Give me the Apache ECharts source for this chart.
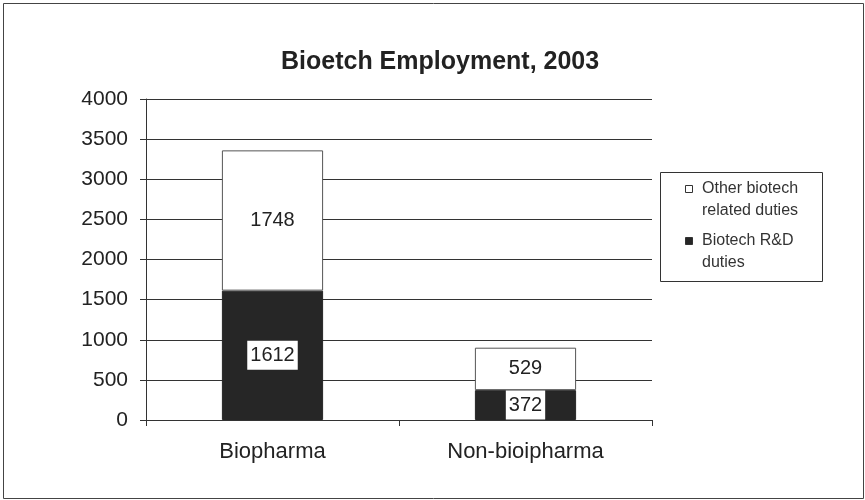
<!DOCTYPE html>
<html>
<head>
<meta charset="utf-8">
<script src="https://cdn.jsdelivr.net/npm/echarts@6/dist/echarts.min.js"></script>
<style>html,body{margin:0;padding:0;background:#fff}#c{width:865px;height:500px}</style>
</head>
<body>
<div id="c"></div>
<script>
var categories = ['Biopharma', 'Non-bioipharma'];
var rdDuties = [1612, 372];
var otherDuties = [1748, 529];
var seriesNames = ['Other biotech related duties', 'Biotech R&D duties'];
var legendLines = ['Other biotech\nrelated duties', 'Biotech R&D\nduties'];
var legendColors = ['#fff', '#262626'];

var FONT = '"Liberation Sans", Arial, sans-serif';
var chart = echarts.init(document.getElementById('c'), null, {renderer: 'canvas'});

var graphics = [
  {type: 'rect', shape: {x: 3.5, y: 3.5, width: 860, height: 495}, style: {fill: 'none', stroke: '#444', lineWidth: 1}},
  {type: 'rect', shape: {x: 660.5, y: 172.5, width: 162, height: 109}, style: {fill: '#fff', stroke: '#333', lineWidth: 1}, z: 1}
];
legendLines.forEach(function (t, i) {
  graphics.push({type: 'rect', shape: {x: 685.5, y: 185.5 + i * 52, width: 7, height: 7}, style: {fill: legendColors[i], stroke: '#333', lineWidth: 1}, z: 2});
  graphics.push({type: 'text', x: 702, y: 178 + i * 52, style: {text: t, font: '16px "Liberation Sans", Arial, sans-serif', fill: '#333', lineHeight: 22}, z: 2});
});

chart.setOption({
  backgroundColor: '#fff',
  animation: false,
  textStyle: {fontFamily: FONT},
  title: {
    text: 'Bioetch Employment, 2003',
    left: 276, top: 45,
    textStyle: {fontFamily: FONT, fontSize: 25, fontWeight: 'bold', color: '#222'}
  },
  graphic: graphics,
  grid: {left: 146, right: 213, top: 99, bottom: 80},
  xAxis: {
    type: 'category', data: categories,
    axisLine: {lineStyle: {color: '#333'}},
    axisTick: {show: true, length: 6, lineStyle: {color: '#333'}},
    axisLabel: {fontFamily: FONT, fontSize: 22, color: '#222', margin: 21}
  },
  yAxis: {
    type: 'value', min: 0, max: 4000, interval: 500,
    axisLine: {show: true, lineStyle: {color: '#333'}},
    axisTick: {show: true, length: 6, lineStyle: {color: '#333'}},
    splitLine: {lineStyle: {color: '#333', width: 1}},
    axisLabel: {fontFamily: FONT, fontSize: 21, color: '#222', margin: 18, formatter: function (v) { return String(v); }}
  },
  series: [
    {
      name: seriesNames[1], type: 'bar', stack: 'a', data: rdDuties, barWidth: '40%',
      itemStyle: {color: '#262626', borderColor: '#262626', borderWidth: 1},
      label: {show: true, position: 'inside', fontFamily: FONT, fontSize: 20, color: '#222', backgroundColor: '#fff', padding: [5, 3, 4, 3]}
    },
    {
      name: seriesNames[0], type: 'bar', stack: 'a', data: otherDuties, barWidth: '40%',
      itemStyle: {color: '#fff', borderColor: '#555', borderWidth: 1},
      label: {show: true, position: 'inside', fontFamily: FONT, fontSize: 20, color: '#222'}
    }
  ]
});
</script>
</body>
</html>
